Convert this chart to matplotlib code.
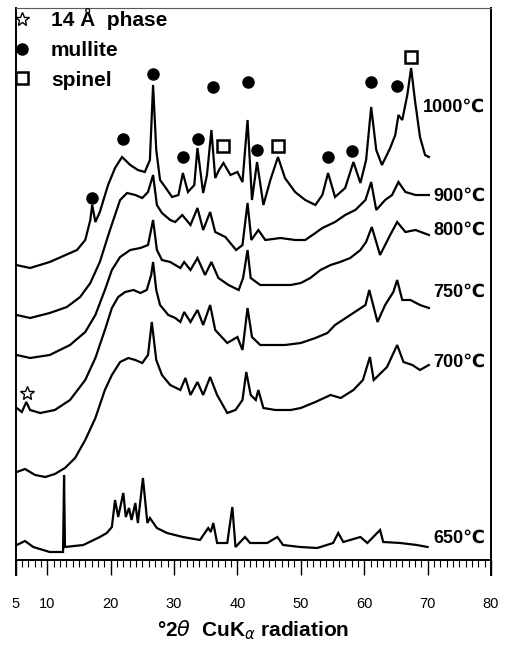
import matplotlib
matplotlib.use("Agg")
import matplotlib.pyplot as plt
from matplotlib.lines import Line2D
from matplotlib.ticker import MultipleLocator, FixedLocator

plt.rcParams['font.family'] = ['Liberation Sans', 'DejaVu Sans']
plt.rcParams['mathtext.fontset'] = 'dejavusans'

# ---------------- data (2theta in degrees, intensity in offset arbitrary units) ----------------
t1000 = [5.1, 7.3, 10.4, 14.7, 16.0, 16.8, 17.1, 17.6, 18.3, 19.6, 20.7, 21.8, 23.1, 24.3, 25.4, 26.2,
         26.7, 27.2, 27.8, 28.6, 29.7, 30.7, 31.4, 32.2, 33.2, 33.7, 34.6, 35.2, 35.9, 36.5, 37.1, 37.8,
         38.9, 40.0, 40.8, 41.6, 42.3, 43.1, 44.1, 45.2, 46.4, 47.5, 49.1, 50.7, 52.3, 53.4, 54.3, 55.4,
         57.0, 58.3, 59.4, 60.3, 61.1, 61.9, 62.8, 64.1, 64.9, 65.4, 66.0, 66.8, 67.4, 68.0, 68.8, 69.6, 70.2]
i1000 = [295, 292, 298, 310, 320, 340, 355, 338, 348, 375, 392, 403, 395, 390, 388, 400,
         475, 410, 380, 373, 363, 365, 387, 368, 375, 412, 367, 385, 430, 382, 390, 397,
         385, 388, 378, 440, 360, 398, 355, 380, 403, 382, 368, 360, 355, 365, 387, 363,
         372, 398, 377, 400, 453, 410, 395, 412, 425, 445, 440, 465, 492, 460, 423, 405, 403]

t900 = [5.2, 7.3, 10.4, 13.1, 15.2, 16.8, 18.3, 19.9, 21.5, 22.6, 23.9, 25.0, 25.9, 26.7, 27.3, 28.1,
        29.4, 30.2, 31.3, 32.6, 33.7, 34.6, 35.7, 36.5, 38.1, 39.8, 40.8, 41.6, 42.2, 43.3, 44.4, 46.8,
        49.1, 50.7, 52.3, 53.4, 55.4, 57.0, 58.6, 60.2, 61.1, 61.9, 63.3, 64.4, 65.4, 66.5, 68.1, 70.2]
i900 = [245, 242, 247, 253, 263, 277, 298, 330, 360, 367, 365, 362, 368, 385, 355, 347,
        340, 338, 345, 335, 352, 330, 348, 328, 323, 310, 315, 357, 320, 330, 320, 322,
        320, 320, 327, 332, 338, 345, 350, 360, 378, 350, 360, 365, 378, 368, 365, 365]

t800 = [5.2, 7.3, 10.4, 13.6, 16.0, 17.6, 19.1, 20.2, 21.5, 23.1, 24.7, 25.9, 26.7, 27.3, 28.1, 29.4,
        31.0, 31.6, 32.6, 33.7, 34.9, 35.9, 37.0, 38.6, 40.2, 40.9, 41.6, 42.1, 43.6, 46.0, 48.4, 50.0,
        51.5, 53.1, 54.7, 56.2, 57.8, 59.4, 60.3, 61.2, 62.5, 64.1, 65.2, 66.5, 68.1, 70.2]
i800 = [205, 202, 205, 215, 228, 245, 270, 290, 303, 310, 312, 315, 340, 310, 300, 298,
        292, 298, 290, 302, 285, 298, 282, 275, 270, 282, 310, 282, 275, 275, 275, 277,
        282, 290, 295, 298, 302, 310, 318, 333, 305, 325, 338, 328, 330, 325]

t750 = [5.2, 6.0, 6.7, 7.3, 8.9, 11.2, 13.6, 16.0, 17.6, 19.1, 20.2, 21.2, 22.3, 23.6, 24.7, 25.7,
        26.4, 26.7, 27.2, 27.8, 29.1, 30.2, 31.0, 31.6, 32.6, 33.7, 34.6, 35.7, 36.5, 38.4, 40.0, 40.8,
        41.6, 42.3, 43.6, 45.2, 47.5, 50.0, 52.3, 54.2, 55.4, 57.8, 60.2, 60.8, 62.1, 63.3, 64.6, 65.2,
        66.0, 67.3, 68.8, 70.2]
i750 = [152, 148, 158, 150, 147, 150, 160, 180, 202, 230, 252, 263, 268, 270, 267, 270,
        285, 298, 270, 255, 245, 242, 238, 248, 238, 250, 235, 255, 230, 217, 223, 210,
        252, 223, 215, 215, 215, 217, 222, 227, 235, 245, 255, 270, 238, 255, 268, 280,
        260, 260, 255, 252]

t700 = [5.2, 6.5, 8.1, 9.7, 11.2, 12.8, 14.4, 16.0, 17.6, 19.1, 20.2, 21.5, 22.8, 23.9, 25.0, 25.9,
        26.5, 27.2, 28.1, 29.4, 31.0, 31.8, 32.6, 33.7, 34.6, 35.7, 36.8, 38.4, 39.7, 40.8, 41.4, 42.1,
        42.9, 43.3, 44.1, 46.0, 48.4, 50.0, 52.3, 54.7, 56.3, 58.3, 59.8, 60.9, 61.5, 63.6, 65.2, 66.2,
        67.6, 68.8, 70.2]
i700 = [88, 91, 85, 83, 86, 92, 102, 120, 142, 170, 185, 198, 202, 200, 197, 205,
        238, 200, 185, 175, 170, 182, 165, 178, 165, 183, 165, 147, 150, 160, 188, 165,
        160, 170, 152, 150, 150, 152, 158, 165, 162, 170, 180, 203, 180, 193, 215, 198,
        195, 190, 195]

t650 = [5.2, 6.5, 7.8, 10.4, 12.5, 12.66, 12.8, 15.7, 18.3, 19.4, 20.2, 20.7, 21.2, 22.0, 22.4, 22.9,
        23.3, 23.9, 24.3, 25.1, 25.8, 26.2, 27.3, 28.9, 31.4, 34.1, 35.4, 35.8, 36.2, 36.8, 38.4, 39.2,
        39.7, 41.2, 42.0, 44.7, 46.3, 47.2, 49.9, 52.6, 55.1, 55.9, 56.7, 59.4, 60.5, 62.5, 63.0, 65.7,
        68.3, 70.0]
i650 = [15, 19, 13, 8, 8, 85, 13, 15, 23, 27, 33, 60, 43, 67, 43, 52,
        40, 57, 37, 82, 37, 42, 32, 27, 23, 20, 32, 28, 37, 17, 17, 53,
        13, 23, 17, 17, 23, 15, 13, 12, 17, 27, 18, 23, 17, 30, 18, 17,
        15, 13]

series_t = [t1000, t900, t800, t750, t700, t650]
series_i = [i1000, i900, i800, i750, i700, i650]
temp_labels = ['1000℃', '900℃', '800℃', '750℃', '700℃', '650℃']
label_x = [69.2, 70.9, 70.9, 70.9, 70.9, 70.9]
label_y = [453, 364, 330, 268, 198, 22]

mullite_t = [17.08, 21.97, 26.71, 31.45, 33.82, 36.14, 41.71, 43.13, 54.34, 58.13, 61.14, 65.25]
mullite_y = [362, 421, 486, 403, 421, 473, 478, 410, 403, 409, 478, 474]
spinel_t = [37.77, 46.45, 67.44]
spinel_y = [414, 414, 503]
phase14_t = [6.82]
phase14_y = [167]

x_ticks = [5, 10, 20, 30, 40, 50, 60, 70, 80]

# ---------------- figure ----------------
fig = plt.figure(figsize=(5.05, 6.45), dpi=100)
ax = fig.add_axes([15.5 / 505, 85 / 645, (491 - 15.5) / 505, 552 / 645])

for t, i in zip(series_t, series_i):
    ax.plot(t, i, color='black', lw=1.6, solid_joinstyle='miter')

for lx, ly, lab in zip(label_x, label_y, temp_labels):
    ax.text(lx, ly, lab, fontsize=13, fontweight='bold', ha='left', va='center',
            family=['Liberation Sans', 'DejaVu Sans'])

ax.plot(mullite_t, mullite_y, 'o', color='black', ms=8, ls='none')
ax.plot(spinel_t, spinel_y, 's', mfc='white', mec='black', mew=1.8, ms=8, ls='none')
ax.plot(phase14_t, phase14_y, '*', mfc='white', mec='black', mew=1.0, ms=10, ls='none')

handles = [
    Line2D([], [], marker='*', mfc='white', mec='black', mew=1.0, ms=10, ls='none'),
    Line2D([], [], marker='o', color='black', ms=8, ls='none'),
    Line2D([], [], marker='s', mfc='white', mec='black', mew=1.8, ms=8, ls='none'),
]
ax.legend(handles, ['14 Å  phase', 'mullite', 'spinel'], loc='upper left',
          bbox_to_anchor=(0, 1), frameon=False, borderpad=0, borderaxespad=0,
          handlelength=0.6, handletextpad=1.1, labelspacing=0.52,
          prop={'size': 15, 'weight': 'bold'})

ax.set_xlim(5, 80)
ax.set_ylim(0, 552)
ax.xaxis.set_major_locator(FixedLocator(x_ticks))
ax.xaxis.set_minor_locator(MultipleLocator(1))
ax.set_yticks([])
ax.tick_params(axis='x', which='major', direction='out', length=11, width=1.0, pad=16,
               labelsize=10.5)
ax.tick_params(axis='x', which='minor', direction='out', length=5, width=0.8)

for s in ['left', 'right', 'bottom']:
    ax.spines[s].set_linewidth(1.4)
ax.spines['top'].set_linewidth(0.8)
ax.spines['top'].set_color('0.35')

# extend side frame lines down across the tick strip
for xa in (0, 1):
    ax.plot([xa, xa], [0, -15 / 552], transform=ax.transAxes, color='black', lw=1.4,
            clip_on=False)

ax.set_xlabel('°2$\\it{\\theta}$  CuK$_{\\it{\\alpha}}$ radiation', fontsize=15,
              fontweight='bold', labelpad=5)

fig.savefig('out.png', dpi=100)
